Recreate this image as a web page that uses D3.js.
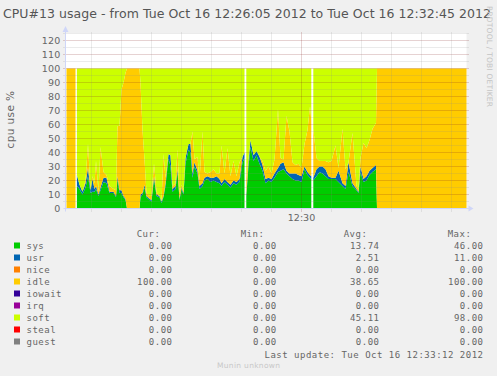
<!DOCTYPE html>
<html>
<head>
<meta charset="utf-8">
<script src="https://cdn.jsdelivr.net/npm/d3@7"></script>
<style>
  html, body { margin: 0; padding: 0; background: #f0f0f0; overflow: hidden; }
</style>
</head>
<body>
<div id="chart"></div>
<script>
// Samples, in seconds after 12:26:05. A null row is an unknown sample (white gap).
const seconds = [0, 9, 9.6, 10.4, 13, 16, 19, 21.5, 24, 26, 28, 29.5, 32, 34, 37, 40, 43, 47, 49.5, 51,
  53, 55, 57, 59, 60.5, 73, 74, 76, 78, 80, 83, 85, 87.5, 90, 93, 95, 97, 99, 102, 104,
  106, 109, 111, 113, 115, 117, 119, 122, 124, 126, 128, 131, 133, 136, 138, 141, 144, 147, 150, 153,
  155, 158, 161, 164, 167, 170, 173, 176, 178, 179, 179.8, 182, 184, 187, 190, 193, 196, 199, 202, 205,
  208, 211.5, 214, 217, 220, 223, 226, 229, 232, 235, 238, 241, 243.5, 244.8, 245.8, 246.8, 250, 253, 256, 259,
  262, 265, 269, 272, 276, 279, 282, 286, 290, 292, 294, 297, 300, 303, 306, 309.5, 310.5, 400];

const sys = [0, 0, null, 16, 14, 10, 15, 23, 11, 12, 12, 14, 9, 13, 19, 18, 11, 11, 8, 21,
  11, 11, 8, 6, 0, 0, 8, 10, 15, 8, 6, 5, 21, 9, 8, 4, 8, 16, 36, 30,
  12, 14, 26, 6, 14, 10, 32, 42, 40, 22, 30, 25, 14, 16, 20, 21, 19, 20, 19, 18,
  16, 19, 17, 15, 18, 17, 19, 33, 36, null, 9, 30, 44, 34, 38, 32, 27, 18, 20, 19,
  22, 26, 27, 28, 25, 23, 21, 20, 20, 19, 28, 24, 22, 21, null, 20, 23, 26, 25, 23,
  21, 21, 21, 19, 16, 14, 26, 16, 13, 11, 26, 19, 20, 24, 26, 28, 0, 0];

const usr = [0, 0, null, 8, 3, 2, 3, 6, 2, 9, 2, 2, 1, 2, 3, 4, 1, 1, 1, 2,
  2, 2, 1, 1, 0, 0, 2, 1, 2, 1, 1, 1, 2, 1, 1, 1, 1, 2, 3, 8,
  2, 2, 2, 1, 1, 1, 4, 4, 6, 3, 3, 2, 2, 2, 2, 2, 3, 2, 4, 3,
  2, 2, 2, 2, 2, 2, 2, 4, 4, null, 1, 4, 5, 4, 3, 5, 4, 3, 2, 2,
  3, 3, 5, 5, 2, 2, 4, 5, 4, 4, 2, 2, 2, 2, null, 2, 5, 4, 5, 5,
  2, 1, 1, 8, 2, 2, 7, 2, 1, 1, 4, 2, 3, 3, 3, 3, 0, 0];

const idle = [100, 100, null, 0, 0, 0, 2, 17, 0, 2, 4, 18, 2, 29, 4, 2, 4, 2, 4, 36,
  46, 72, 81, 90, 100, 100, 80, 45, 18, 2, 2, 3, 9, 2, 0, 0, 30, 4, 0, 0,
  2, 2, 14, 4, 2, 2, 0, 0, 0, 30, 2, 10, 4, 37, 4, 2, 4, 6, 2, 4,
  27, 4, 24, 6, 14, 4, 12, 0, 0, null, 12, 2, 0, 0, 0, 0, 3, 6, 8, 4,
  10, 42, 4, 2, 39, 30, 8, 6, 8, 6, 16, 30, 49, 40, null, 35, 8, 4, 4, 6,
  10, 12, 23, 2, 39, 12, 0, 36, 2, 2, 6, 26, 20, 22, 28, 30, 100, 100];

const soft = [0, 0, null, 76, 83, 88, 80, 54, 87, 77, 82, 66, 88, 56, 74, 76, 84, 86, 87, 41,
  41, 15, 10, 3, 0, 0, 10, 44, 65, 89, 91, 91, 68, 88, 91, 95, 61, 78, 61, 62,
  84, 82, 58, 89, 83, 87, 64, 54, 54, 45, 65, 63, 80, 45, 74, 75, 74, 72, 75, 75,
  55, 75, 57, 77, 66, 77, 67, 63, 60, null, 78, 64, 51, 62, 59, 63, 66, 73, 70, 75,
  65, 29, 64, 65, 34, 45, 67, 69, 68, 71, 54, 44, 27, 37, null, 43, 64, 66, 66, 66,
  67, 66, 55, 71, 43, 72, 67, 46, 84, 86, 64, 53, 57, 51, 43, 39, 0, 0];

// Legend rows
const fields = ['sys', 'usr', 'nice', 'idle', 'iowait', 'irq', 'soft', 'steal', 'guest'];
const colors = ['#00CC00', '#0066B3', '#FF8000', '#FFCC00', '#330099', '#990099', '#CCFF00', '#FF0000', '#808080'];
const curVals = [0, 0, 0, 100, 0, 0, 0, 0, 0];
const minVals = [0, 0, 0, 0, 0, 0, 0, 0, 0];
const avgVals = [13.74, 2.51, 0, 38.65, 0, 0, 45.11, 0, 0];
const maxVals = [46, 11, 0, 100, 0, 0, 98, 0, 0];

const yTicks = [0, 10, 20, 30, 40, 50, 60, 70, 80, 90, 100, 110, 120];

const W = 497;
const H = 376;
const axisColor = '#CFD6F8';
const fontColor = '#666666';

const svg = d3.select('#chart').append('svg').attr('width', W).attr('height', H);
svg.append('rect').attr('width', W).attr('height', H).attr('fill', '#f0f0f0');

const start = new Date(2012, 9, 16, 12, 26, 5);
const end = new Date(2012, 9, 16, 12, 32, 45);
const x = d3.scaleTime().domain([start, end]).range([66.5, 466.5]);
const y = d3.scaleLinear().domain([0, 125]).range([208.5, 33.5]);

// plot canvas
svg.append('rect')
  .attr('x', x(start) - 0.5).attr('y', y(125) - 0.5)
  .attr('width', x(end) - x(start) + 0.5).attr('height', y(0) - y(125) + 0.5)
  .attr('fill', '#ffffff');

// stacked areas
const rows = seconds.map((s, i) => ({
  t: new Date(start.getTime() + s * 1000),
  ok: sys[i] !== null,
  sys: sys[i], usr: usr[i], idle: idle[i], soft: soft[i],
}));
const keys = ['sys', 'usr', 'idle', 'soft'];
const stacked = d3.stack().keys(keys).value((d, k) => d[k] || 0)(rows);

const area = d3.area()
  .defined((d) => d.data.ok)
  .x((d) => x(d.data.t))
  .y0((d) => y(d[0]))
  .y1((d) => y(d[1]));

svg.append('g').selectAll('path')
  .data(stacked).enter()
  .append('path')
  .attr('d', area)
  .attr('fill', (d) => colors[fields.indexOf(d.key)]);

// grid (drawn over the areas, dotted like rrdtool)
const minorCol = 'rgba(140,140,140,0.35)';
const majorCol = 'rgba(130,30,30,0.4)';
const grid = svg.append('g').attr('stroke-dasharray', '1,1').attr('stroke-width', 1);

grid.selectAll('.hmin')
  .data(y.ticks(25).filter((v) => yTicks.indexOf(v) < 0)).enter()
  .append('line')
  .attr('x1', x(start) - 3).attr('x2', x(end) + 2)
  .attr('y1', (d) => y(d)).attr('y2', (d) => y(d))
  .attr('stroke', minorCol);

grid.selectAll('.hmaj')
  .data(yTicks.filter((v) => v > 0)).enter()
  .append('line')
  .attr('x1', x(start) - 3).attr('x2', x(end) + 2)
  .attr('y1', (d) => y(d)).attr('y2', (d) => y(d))
  .attr('stroke', majorCol);

const majorTimes = d3.timeMinute.every(5).range(start, end);
const minorTimes = d3.timeSecond.every(30).range(start, end)
  .filter((t) => !majorTimes.some((m) => +m === +t));

grid.selectAll('.vmin')
  .data(minorTimes).enter()
  .append('line')
  .attr('x1', (d) => x(d)).attr('x2', (d) => x(d))
  .attr('y1', y(125) - 1).attr('y2', y(0) + 3)
  .attr('stroke', minorCol);

grid.selectAll('.vmaj')
  .data(majorTimes).enter()
  .append('line')
  .attr('x1', (d) => x(d)).attr('x2', (d) => x(d))
  .attr('y1', y(125) - 1).attr('y2', y(0) + 3)
  .attr('stroke', majorCol);

// axes with arrows
const ax = x(start) - 1;
svg.append('line').attr('x1', ax).attr('x2', ax).attr('y1', y(0) + 3).attr('y2', 30)
  .attr('stroke', axisColor);
svg.append('line').attr('x1', x(start) - 3).attr('x2', x(end) + 4).attr('y1', y(0)).attr('y2', y(0))
  .attr('stroke', axisColor);
svg.append('path')
  .attr('d', `M${ax},26 L${ax - 3},32 L${ax + 3},32 Z`)
  .attr('fill', axisColor);
svg.append('path')
  .attr('d', `M${x(end) + 7},${y(0)} L${x(end) + 2},${y(0) - 3} L${x(end) + 2},${y(0) + 3} Z`)
  .attr('fill', axisColor);

// tick labels
svg.append('g').selectAll('text')
  .data(yTicks).enter()
  .append('text')
  .attr('x', 60.5)
  .attr('y', (d) => y(d) + 3.3)
  .attr('text-anchor', 'end')
  .attr('font-family', 'DejaVu Sans')
  .attr('font-size', 9.5)
  .attr('letter-spacing', 0.2)
  .attr('fill', fontColor)
  .text((d) => d);

svg.append('g').selectAll('text')
  .data(majorTimes).enter()
  .append('text')
  .attr('x', (d) => x(d))
  .attr('y', 220.5)
  .attr('text-anchor', 'middle')
  .attr('font-family', 'DejaVu Sans')
  .attr('font-size', 9.5)
  .attr('fill', fontColor)
  .text(d3.timeFormat('%H:%M'));

// title and side texts
svg.append('text')
  .attr('x', 3).attr('y', 18)
  .attr('font-family', 'DejaVu Sans')
  .attr('font-size', 12.5)
  .attr('textLength', 488)
  .attr('lengthAdjust', 'spacing')
  .attr('fill', '#555555')
  .text('CPU#13 usage - from Tue Oct 16 12:26:05 2012 to Tue Oct 16 12:32:45 2012');

svg.append('text')
  .attr('transform', 'translate(13.5,119.5) rotate(-90)')
  .attr('text-anchor', 'middle')
  .attr('font-family', 'DejaVu Sans')
  .attr('font-size', 10.5)
  .attr('letter-spacing', 0.4)
  .attr('fill', fontColor)
  .text('cpu use %');

svg.append('text')
  .attr('transform', 'translate(486.5,6) rotate(90)')
  .attr('font-family', 'DejaVu Sans')
  .attr('font-size', 7.5)
  .attr('textLength', 101)
  .attr('lengthAdjust', 'spacing')
  .attr('fill', '#c4c4c4')
  .text('RRDTOOL / TOBI OETIKER');

// legend
const mono = 'DejaVu Sans Mono';
const legend = svg.append('g')
  .attr('font-family', mono)
  .attr('font-size', 9)
  .attr('letter-spacing', 0.5)
  .attr('fill', fontColor);

const colLeft = [136.7, 240.7, 343.7, 447.7];
const colRight = [172.5, 276.8, 379.5, 483.5];
['Cur:', 'Min:', 'Avg:', 'Max:'].forEach((h, i) => {
  legend.append('text').attr('x', colLeft[i]).attr('y', 236.5).text(h);
});

const fmt = d3.format('.2f');
const rowY = (i) => 248.5 + i * 12;
fields.forEach((f, i) => {
  legend.append('rect')
    .attr('x', 14).attr('y', rowY(i) - 6)
    .attr('width', 6).attr('height', 6)
    .attr('fill', colors[i]);
  legend.append('text').attr('x', 26.5).attr('y', rowY(i)).text(f);
  [curVals, minVals, avgVals, maxVals].forEach((vals, j) => {
    legend.append('text')
      .attr('x', colRight[j]).attr('y', rowY(i))
      .attr('text-anchor', 'end')
      .text(fmt(vals[i]));
  });
});

legend.append('text')
  .attr('x', 483.5).attr('y', 357.5)
  .attr('text-anchor', 'end')
  .text('Last update: Tue Oct 16 12:33:12 2012');

svg.append('text')
  .attr('x', 248.5).attr('y', 367.5)
  .attr('text-anchor', 'middle')
  .attr('font-family', 'DejaVu Sans')
  .attr('font-size', 7.5)
  .attr('textLength', 63)
  .attr('lengthAdjust', 'spacing')
  .attr('fill', '#c8c8c8')
  .text('Munin unknown');
</script>
</body>
</html>
